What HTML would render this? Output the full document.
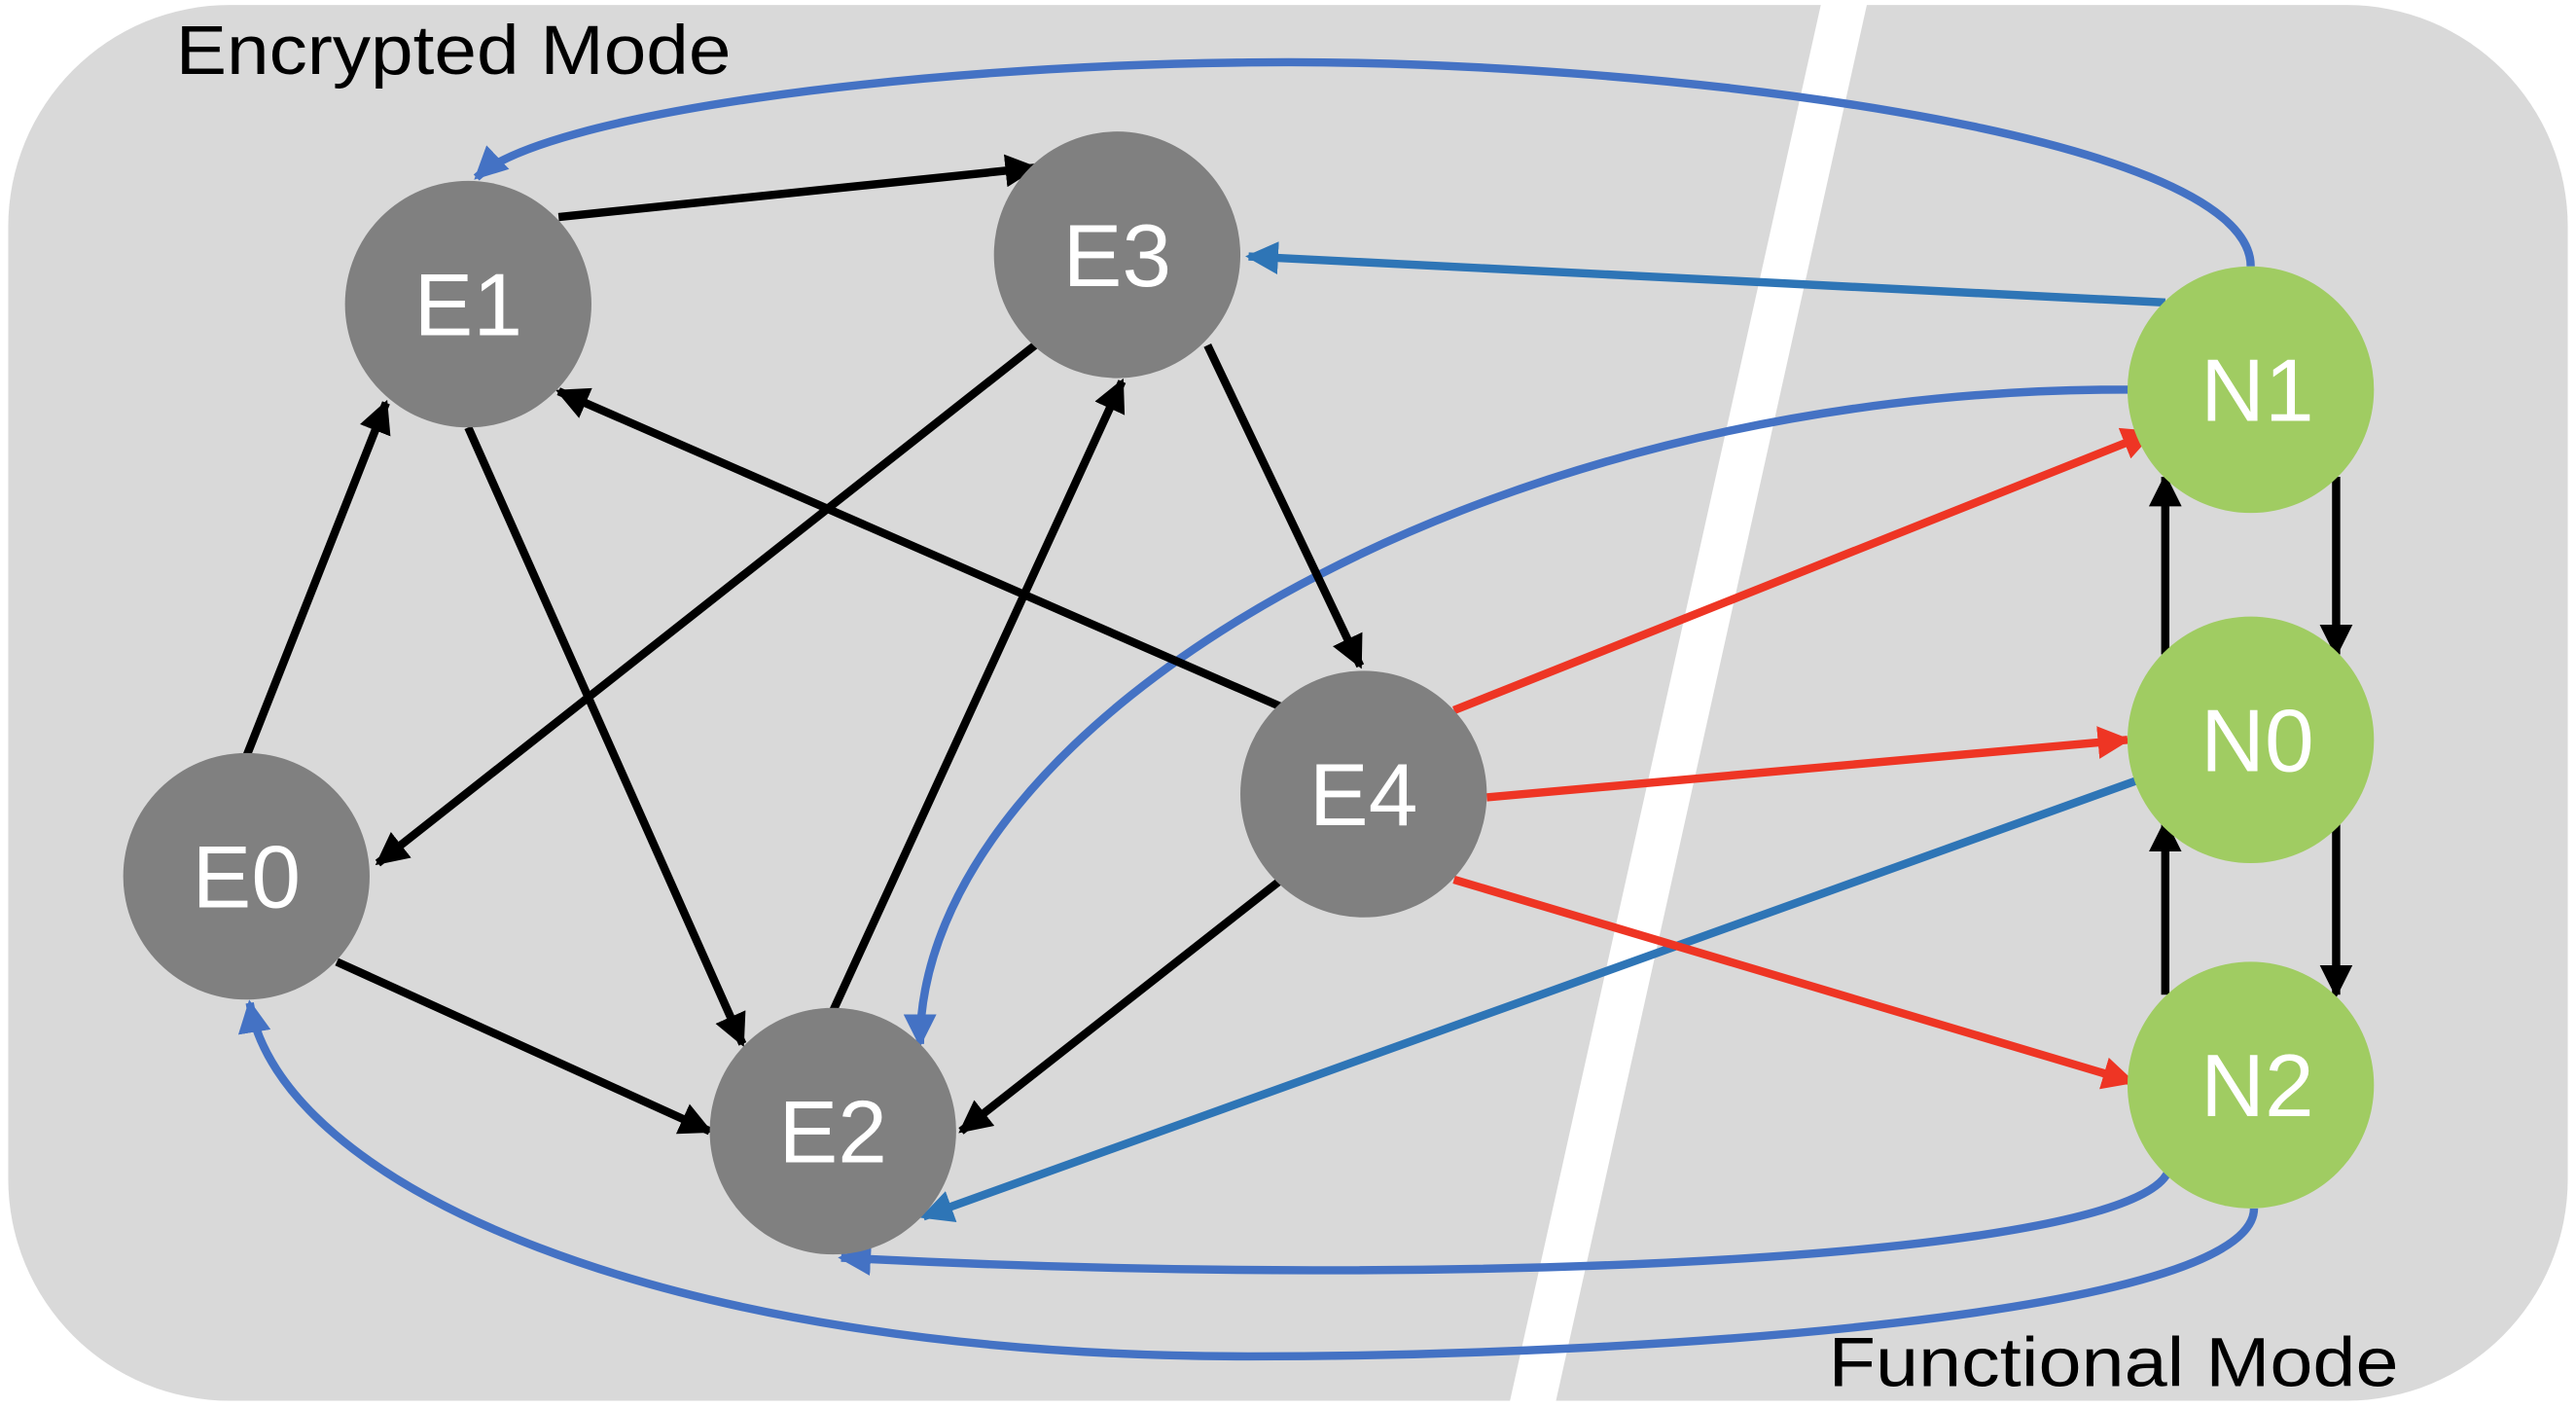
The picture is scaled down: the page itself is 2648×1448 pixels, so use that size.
<!DOCTYPE html>
<html><head><meta charset="utf-8"><style>
html,body{margin:0;padding:0;background:#fff;}
svg{display:block;}
</style></head><body>
<svg width="2648" height="1448" viewBox="0 0 1568 857" preserveAspectRatio="none" xmlns="http://www.w3.org/2000/svg">
<defs>
<marker id="ab" viewBox="0 0 10 10" refX="9" refY="5" markerWidth="4" markerHeight="4" orient="auto" markerUnits="strokeWidth"><path d="M0,0 L10,5 L0,10 z" fill="#000"/></marker>
<marker id="ar" viewBox="0 0 10 10" refX="9" refY="5" markerWidth="4" markerHeight="4" orient="auto" markerUnits="strokeWidth"><path d="M0,0 L10,5 L0,10 z" fill="#ee3524"/></marker>
<marker id="au" viewBox="0 0 10 10" refX="9" refY="5" markerWidth="4" markerHeight="4" orient="auto" markerUnits="strokeWidth"><path d="M0,0 L10,5 L0,10 z" fill="#2e75b6"/></marker>
<marker id="al" viewBox="0 0 10 10" refX="9" refY="5" markerWidth="4" markerHeight="4" orient="auto" markerUnits="strokeWidth"><path d="M0,0 L10,5 L0,10 z" fill="#4472c4"/></marker>
</defs>
<rect x="5" y="3" width="1558" height="849" rx="135" fill="#d9d9d9"/>
<polygon points="1109,0 1137,0 946,857 918,857" fill="#fff"/>
<text x="107" y="45" font-family="Liberation Sans, sans-serif" font-size="42" fill="#000" textLength="338" lengthAdjust="spacingAndGlyphs">Encrypted Mode</text>
<text x="1113" y="843" font-family="Liberation Sans, sans-serif" font-size="42" fill="#000" textLength="347" lengthAdjust="spacingAndGlyphs">Functional Mode</text>
<g fill="none" stroke-width="5">
<path d="M1370,162 C1370,80 1000,35 760,38 C550,40 330,70 290,108" stroke="#4472c4" marker-end="url(#al)"/>
<path d="M1297,237 C900,235 560,440 560,635" stroke="#4472c4" marker-end="url(#al)"/>
<path d="M1320,712 C1300,765 900,785 512,765" stroke="#4472c4" marker-end="url(#al)"/>
<path d="M1372,735 C1372,800 1000,825 760,825 C400,825 170,720 152,610" stroke="#4472c4" marker-end="url(#al)"/>
<line x1="1318" y1="184" x2="760" y2="156" stroke="#2e75b6" marker-end="url(#au)"/>
<line x1="1300" y1="475" x2="562" y2="740" stroke="#2e75b6" marker-end="url(#au)"/>
<g stroke="#000">
<line x1="340" y1="132" x2="630" y2="102" marker-end="url(#ab)"/>
<line x1="630" y1="210" x2="230" y2="525" marker-end="url(#ab)"/>
<line x1="735" y1="210" x2="828" y2="405" marker-end="url(#ab)"/>
<line x1="780" y1="430" x2="340" y2="238" marker-end="url(#ab)"/>
<line x1="285" y1="260" x2="452" y2="635" marker-end="url(#ab)"/>
<line x1="150" y1="460" x2="235" y2="245" marker-end="url(#ab)"/>
<line x1="205" y1="585" x2="432" y2="688" marker-end="url(#ab)"/>
<line x1="507" y1="615" x2="683" y2="232" marker-end="url(#ab)"/>
<line x1="780" y1="535" x2="585" y2="688" marker-end="url(#ab)"/>
<line x1="1422" y1="290" x2="1422" y2="398" marker-end="url(#ab)"/>
<line x1="1318" y1="398" x2="1318" y2="290" marker-end="url(#ab)"/>
<line x1="1422" y1="500" x2="1422" y2="605" marker-end="url(#ab)"/>
<line x1="1318" y1="605" x2="1318" y2="500" marker-end="url(#ab)"/>
</g>
<g stroke="#ee3524">
<line x1="885" y1="432" x2="1310" y2="263" marker-end="url(#ar)"/>
<line x1="905" y1="485" x2="1295" y2="450" marker-end="url(#ar)"/>
<line x1="885" y1="535" x2="1298" y2="658" marker-end="url(#ar)"/>
</g>
</g>
<g fill="#808080">
<circle cx="285" cy="185" r="75"/><circle cx="680" cy="155" r="75"/><circle cx="150" cy="533" r="75"/><circle cx="507" cy="688" r="75"/><circle cx="830" cy="483" r="75"/>
</g>
<g fill="#a0cc62">
<circle cx="1370" cy="237" r="75"/><circle cx="1370" cy="450" r="75"/><circle cx="1370" cy="660" r="75"/>
</g>
<g font-family="Liberation Sans, sans-serif" font-size="54" fill="#fff" text-anchor="middle">
<text x="285" y="204">E1</text><text x="680" y="174">E3</text><text x="150" y="552">E0</text><text x="507" y="707">E2</text><text x="830" y="502">E4</text>
<text x="1374" y="256">N1</text><text x="1374" y="469">N0</text><text x="1374" y="679">N2</text>
</g>
</svg>
</body></html>
